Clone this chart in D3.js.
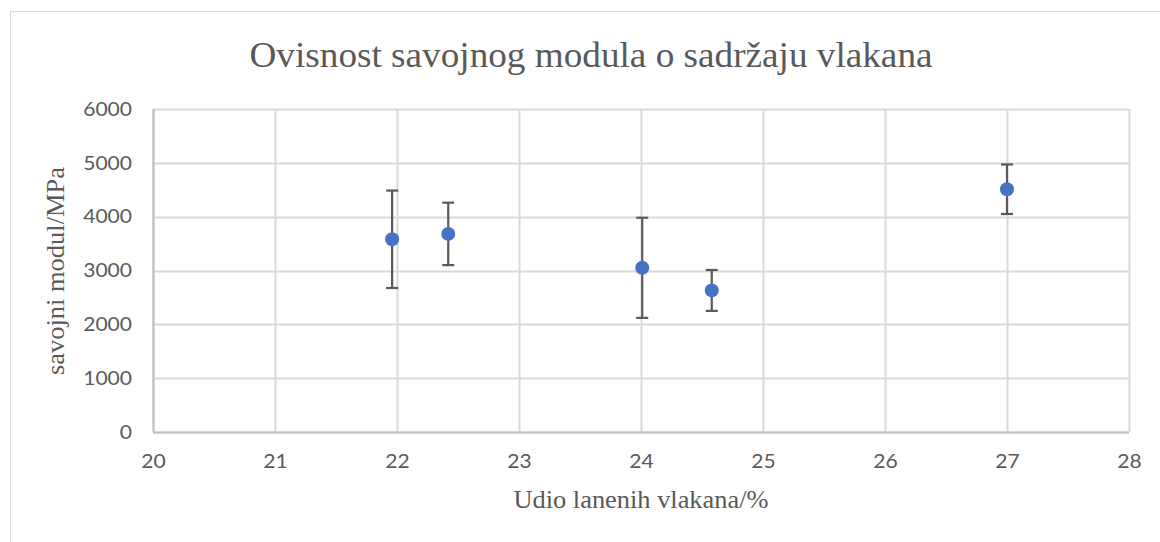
<!DOCTYPE html>
<html>
<head>
<meta charset="utf-8">
<script src="https://cdn.jsdelivr.net/npm/d3@7"></script>
<style>
  html, body { margin: 0; padding: 0; background: #fff; }
  svg { display: block; }
</style>
</head>
<body>
<svg id="chart" width="1160" height="542"></svg>
<script>
// Fibre content (%) and flexural modulus (MPa) with standard deviation
const fibreContent = [21.96, 22.42, 24.01, 24.58, 27.0];
const modulus      = [3580, 3680, 3050, 2630, 4510];
const deviation    = [905, 580, 930, 380, 460];

const xTicks = [20, 21, 22, 23, 24, 25, 26, 27, 28];
const yTicks = [0, 1000, 2000, 3000, 4000, 5000, 6000];

const titleText = "Ovisnost savojnog modula o sadržaju vlakana";
const xTitle = "Udio lanenih vlakana/%";
const yTitle = "savojni modul/MPa";

const svg = d3.select("#chart");
const W = 1160, H = 542;
const plot = { left: 153, right: 1129, top: 109, bottom: 432 };
const serif = "'Liberation Serif', 'Times New Roman', serif";
const sans = "Lato, 'Open Sans', sans-serif";
const textGrey = "#595959";

// outer chart frame
svg.append("rect")
  .attr("x", 10.5).attr("y", 11.5)
  .attr("width", W + 20).attr("height", H + 20)
  .attr("fill", "#fff").attr("stroke", "#d9d9d9").attr("stroke-width", 1);

const x = d3.scaleLinear().domain([20, 28]).range([plot.left, plot.right]);
const y = d3.scaleLinear().domain([0, 6000]).range([plot.bottom, plot.top]);

const grid = svg.append("g");
// vertical gridlines
grid.selectAll("line.vx").data(xTicks).join("line")
  .attr("x1", d => Math.round(x(d)) + 0.5).attr("x2", d => Math.round(x(d)) + 0.5)
  .attr("y1", plot.top).attr("y2", plot.bottom)
  .attr("stroke", "#d9d9d9").attr("stroke-width", 2);
// horizontal gridlines
grid.selectAll("line.hy").data(yTicks).join("line")
  .attr("x1", plot.left).attr("x2", plot.right)
  .attr("y1", d => Math.round(y(d)) + 0.5).attr("y2", d => Math.round(y(d)) + 0.5)
  .attr("stroke", "#d9d9d9").attr("stroke-width", 2);

// axis lines
svg.append("line")
  .attr("x1", plot.left).attr("x2", plot.right)
  .attr("y1", Math.round(y(0)) + 0.5).attr("y2", Math.round(y(0)) + 0.5)
  .attr("stroke", "#bfbfbf").attr("stroke-width", 2);
svg.append("line")
  .attr("x1", Math.round(x(20)) + 0.5).attr("x2", Math.round(x(20)) + 0.5)
  .attr("y1", plot.top).attr("y2", plot.bottom)
  .attr("stroke", "#bfbfbf").attr("stroke-width", 2);

// tick labels via d3 axes, with their lines removed
const xAxis = svg.append("g")
  .attr("transform", `translate(0,${plot.bottom})`)
  .call(d3.axisBottom(x).tickValues(xTicks).tickSize(0).tickPadding(22).tickFormat(d3.format("d")));
const yAxis = svg.append("g")
  .attr("transform", `translate(${plot.left},0)`)
  .call(d3.axisLeft(y).tickValues(yTicks).tickSize(0).tickPadding(21).tickFormat(d3.format("d")));
[xAxis, yAxis].forEach(a => {
  a.select(".domain").remove();
  a.selectAll("text")
    .attr("font-family", sans)
    .attr("font-size", 19.5).attr("fill", textGrey)
    .attr("textLength", function() { return this.textContent.length * 12.2; })
    .attr("lengthAdjust", "spacingAndGlyphs");
});
xAxis.selectAll("text").attr("dy", "0.71em");

// error bars
const bars = svg.append("g").attr("stroke", "#595959").attr("stroke-width", 2.2);
const cap = 6;
fibreContent.forEach((fc, i) => {
  const cx = x(fc);
  const top = y(modulus[i] + deviation[i]);
  const bot = y(modulus[i] - deviation[i]);
  bars.append("line").attr("x1", cx).attr("x2", cx).attr("y1", top).attr("y2", bot);
  bars.append("line").attr("x1", cx - cap).attr("x2", cx + cap).attr("y1", top).attr("y2", top);
  bars.append("line").attr("x1", cx - cap).attr("x2", cx + cap).attr("y1", bot).attr("y2", bot);
});

// data points
svg.append("g").selectAll("circle").data(fibreContent).join("circle")
  .attr("cx", d => x(d))
  .attr("cy", (d, i) => y(modulus[i]))
  .attr("r", 7)
  .attr("fill", "#4472c4");

// titles
svg.append("text")
  .attr("x", 591).attr("y", 67)
  .attr("text-anchor", "middle")
  .attr("font-family", serif)
  .attr("font-size", 36).attr("fill", textGrey)
  .attr("textLength", 683).attr("lengthAdjust", "spacingAndGlyphs")
  .text(titleText);

svg.append("text")
  .attr("x", (plot.left + plot.right) / 2).attr("y", 508)
  .attr("text-anchor", "middle")
  .attr("font-family", serif)
  .attr("font-size", 25).attr("fill", textGrey)
  .attr("textLength", 255).attr("lengthAdjust", "spacingAndGlyphs")
  .text(xTitle);

svg.append("text")
  .attr("transform", `translate(64,271) rotate(-90)`)
  .attr("text-anchor", "middle")
  .attr("font-family", serif)
  .attr("font-size", 25).attr("fill", textGrey)
  .attr("textLength", 208).attr("lengthAdjust", "spacingAndGlyphs")
  .text(yTitle);
</script>
</body>
</html>
